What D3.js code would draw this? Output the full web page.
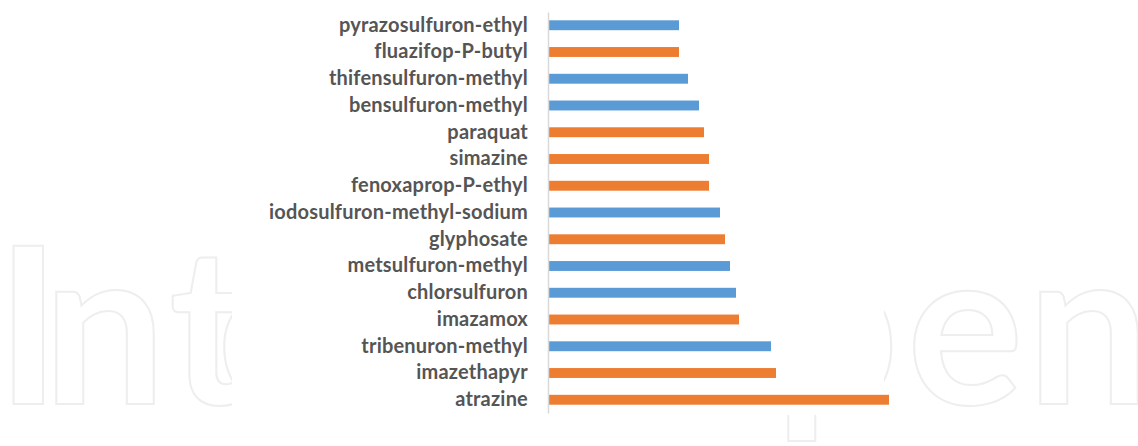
<!-- Herbicide horizontal bar chart -->
<!DOCTYPE html>
<html>
<head>
<meta charset="utf-8">
<style>
  html, body { margin: 0; padding: 0; background: #fff; }
  svg { display: block; }
</style>
</head>
<body>
<svg width="1138" height="446"></svg>
<script src="https://d3js.org/d3.v7.min.js"></script>
<script>
// data, top to bottom as in the figure
const herbicides = [
  "pyrazosulfuron-ethyl", "fluazifop-P-butyl", "thifensulfuron-methyl",
  "bensulfuron-methyl", "paraquat", "simazine", "fenoxaprop-P-ethyl",
  "iodosulfuron-methyl-sodium", "glyphosate", "metsulfuron-methyl",
  "chlorsulfuron", "imazamox", "tribenuron-methyl", "imazethapyr", "atrazine"
];
const values = [13.0, 13.0, 13.9, 15.0, 15.5, 16.0, 16.0, 17.1, 17.6, 18.1, 18.7, 19.0, 22.2, 22.7, 34.0];
// 0 = blue series, 1 = orange series
const group = [0, 1, 0, 0, 1, 1, 1, 0, 1, 0, 0, 1, 0, 1, 1];
const colors = ["#5b9bd5", "#ed7d31"];

// watermark letters and their x positions
const wmText = "IntechOpen";
const wmX = [-4, 43, 169, 217, 360, 480, 620, 775, 907, 1027];

const svg = d3.select("svg");
const width = +svg.attr("width");
const height = +svg.attr("height");

// faint outlined watermark behind the chart
svg.append("text")
  .attr("x", wmX.join(" "))
  .attr("y", 404)
  .attr("font-family", "Lato, sans-serif")
  .attr("font-weight", 700)
  .attr("font-size", 218)
  .attr("fill", "#fff")
  .attr("stroke", "#eeeeee")
  .attr("stroke-width", 2)
  .text(wmText);

// white chart area hides the watermark
svg.append("rect")
  .attr("x", 232).attr("y", 0)
  .attr("width", 652).attr("height", 415)
  .attr("fill", "#fff");

const x0 = 549;
const x = d3.scaleLinear().domain([0, 34]).range([x0, 889]);
const y = d3.scaleBand().domain(herbicides).range([12, 413]).paddingInner(0.63).paddingOuter(0.31);

const data = herbicides.map((name, i) => ({ name, value: values[i], g: group[i] }));

svg.append("g").selectAll("rect").data(data).enter()
  .append("rect")
  .attr("x", x(0))
  .attr("y", d => y(d.name))
  .attr("width", d => x(d.value) - x(0))
  .attr("height", y.bandwidth())
  .attr("fill", d => colors[d.g]);

// vertical axis line and category labels
const yAxis = d3.axisLeft(y).tickSize(0).tickPadding(20);
const ax = svg.append("g").attr("transform", `translate(${x0 - 1},0)`).call(yAxis);
ax.select(".domain").attr("stroke", "#d9d9d9").attr("stroke-width", 1.5);
ax.selectAll("text")
  .attr("font-family", "Lato, sans-serif")
  .attr("font-size", 20)
  .attr("font-weight", 700)
  .attr("letter-spacing", 0.2)
  .attr("fill", "#555555");
</script>
</body>
</html>
